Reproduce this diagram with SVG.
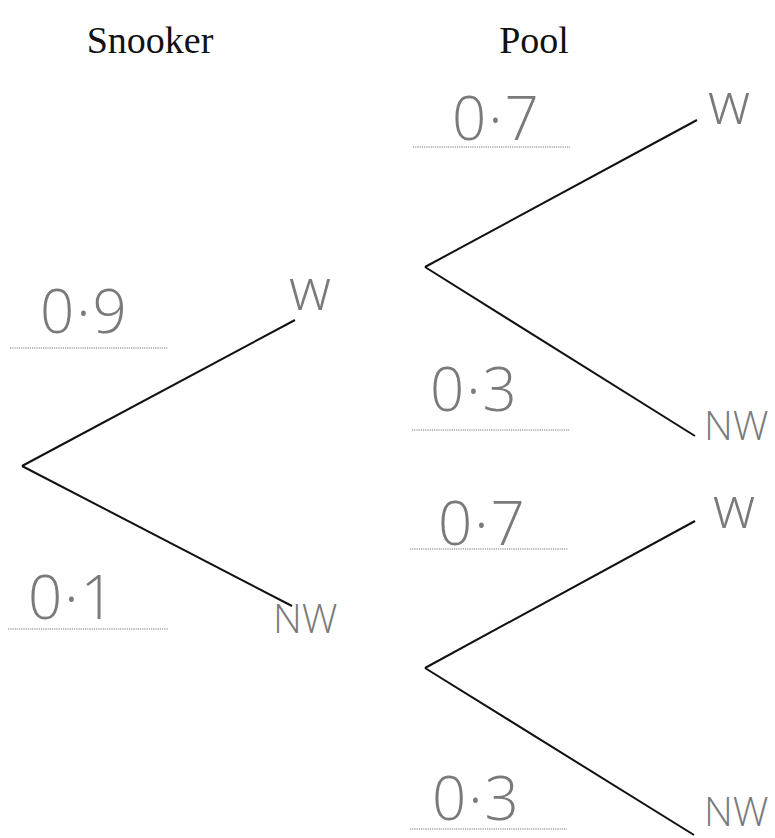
<svg xmlns="http://www.w3.org/2000/svg" width="775" height="838" viewBox="0 0 775 838">
<style>
.title{font-family:"Liberation Serif",serif;font-size:38px;fill:#111}
.hw{font-family:"Open Sans","DejaVu Sans",sans-serif;font-weight:300;fill:#7a7a7a}
.prob{font-size:60px;letter-spacing:2px}
.w{font-size:58px}
.nw{font-size:40px}
.dot{stroke:#777;stroke-width:1.2;stroke-dasharray:1.2 1}
.br{stroke:#111;stroke-width:2;fill:none}
</style>
<rect width="775" height="838" fill="#fff"/>
<text class="title" x="150" y="53" text-anchor="middle">Snooker</text>
<text class="title" x="534" y="53" text-anchor="middle">Pool</text>
<g id="connectors">
<line class="br" x1="22" y1="466" x2="295" y2="320"/>
<line class="br" x1="22" y1="466" x2="292" y2="606"/>
<line class="br" x1="425" y1="267" x2="697" y2="120"/>
<line class="br" x1="425" y1="267" x2="695" y2="436"/>
<line class="br" x1="425" y1="668" x2="695" y2="521"/>
<line class="br" x1="425" y1="668" x2="694" y2="835"/>
</g>
<g id="snooker-w">
<line class="dot" x1="10" y1="348" x2="168" y2="348"/>
<text class="hw prob" x="40" y="333">0·9</text>
<text class="hw w" x="289" y="310">w</text>
</g>
<g id="snooker-nw">
<line class="dot" x1="8" y1="629" x2="168" y2="629"/>
<text class="hw prob" x="28" y="619">0·1</text>
<text class="hw nw" x="273" y="633">NW</text>
</g>
<g id="pool-w1">
<line class="dot" x1="413" y1="147" x2="570" y2="147"/>
<text class="hw prob" x="452" y="140">0·7</text>
<text class="hw w" x="708" y="124">w</text>
</g>
<g id="pool-nw1">
<line class="dot" x1="412" y1="430" x2="570" y2="430"/>
<text class="hw prob" x="430" y="411">0·3</text>
<text class="hw nw" x="704" y="440">NW</text>
</g>
<g id="pool-w2">
<line class="dot" x1="410" y1="549" x2="568" y2="549"/>
<text class="hw prob" x="438" y="545">0·7</text>
<text class="hw w" x="713" y="528">w</text>
</g>
<g id="pool-nw2">
<line class="dot" x1="410" y1="829" x2="567" y2="829"/>
<text class="hw prob" x="432" y="820">0·3</text>
<text class="hw nw" x="704" y="826">NW</text>
</g>
</svg>
